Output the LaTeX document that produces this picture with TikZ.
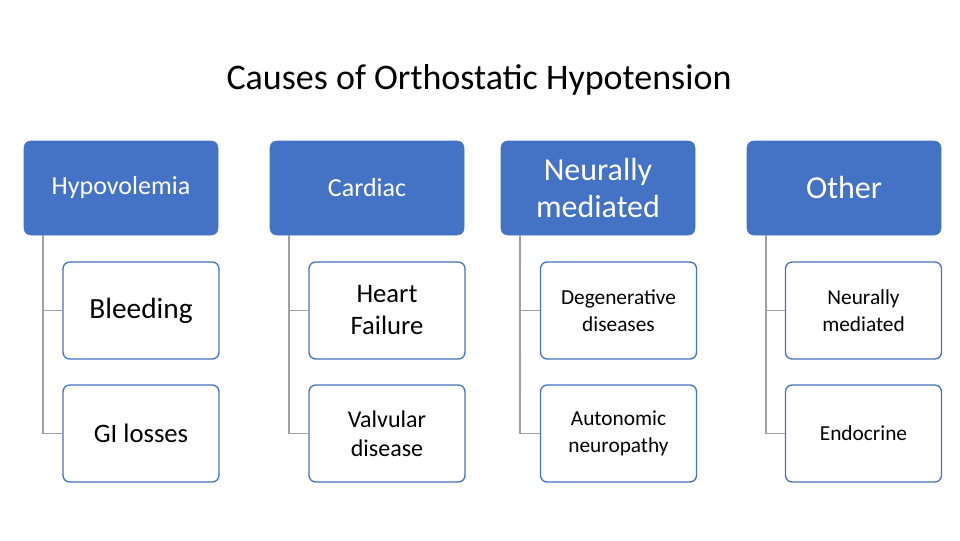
\documentclass[tikz,border=0pt]{standalone}
\usepackage{fontspec}
\setmainfont{Carlito}
\definecolor{hblue}{HTML}{4472C4}
\definecolor{lgray}{HTML}{A0A0A0}
\begin{document}
\begin{tikzpicture}[x=0.75pt,y=-0.75pt,
  head/.style={draw=hblue,fill=hblue,rounded corners=5pt,text=white,align=center,minimum width=145.5pt,minimum height=70.5pt,inner sep=1pt},
  kid/.style={draw=hblue,line width=1pt,fill=white,rounded corners=5pt,text=black,align=center,minimum width=117pt,minimum height=72.75pt,inner sep=1pt},
  conn/.style={draw=lgray,line width=0.9pt}]
\useasboundingbox (0,0) rectangle (960,540);
\node (t) at (479,80) {\fontsize{27}{32}\selectfont Causes of Orthostatic Hypotension};
\node[head,font=\fontsize{19.5}{23}\selectfont] (h1) at (121,188) {Hypovolemia};
\node[head,font=\fontsize{19.5}{23}\selectfont] (h2) at (367,188) {Cardiac};
\node[head,font=\fontsize{24}{28}\selectfont] (h3) at (598,188) {Neurally\\mediated};
\node[head,font=\fontsize{24}{28}\selectfont] (h4) at (844,188) {Other};
\node[kid,font=\fontsize{22}{26}\selectfont] (a1) at (141,310.5) {Bleeding};
\node[kid,font=\fontsize{20}{24}\selectfont] (a2) at (141,433.5) {GI losses};
\node[kid,font=\fontsize{20}{24}\selectfont] (b1) at (387,310.5) {Heart\\Failure};
\node[kid,font=\fontsize{18}{22}\selectfont] (b2) at (387,433.5) {Valvular\\disease};
\node[kid,font=\fontsize{16}{20}\selectfont] (c1) at (618.5,310.5) {Degenerative\\diseases};
\node[kid,font=\fontsize{16}{20}\selectfont] (c2) at (618.5,433.5) {Autonomic\\neuropathy};
\node[kid,font=\fontsize{16}{20}\selectfont] (d1) at (863.5,310.5) {Neurally\\mediated};
\node[kid,font=\fontsize{16}{20}\selectfont] (d2) at (863.5,433.5) {Endocrine};
\foreach \h/\p/\q/\dx in {h1/a1/a2/43,h2/b1/b2/289,h3/c1/c2/520,h4/d1/d2/766}{
  \coordinate (s\h) at (\dx,235);
  \draw[conn] (s\h) |- (\p.west);
  \draw[conn] (s\h) |- (\q.west);
}
\end{tikzpicture}
\end{document}
